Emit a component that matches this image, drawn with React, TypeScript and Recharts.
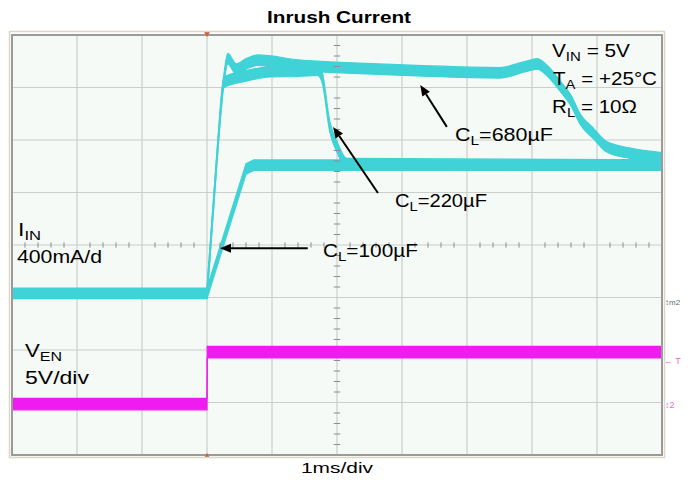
import React from 'react';
import { ComposedChart, Area, XAxis, YAxis, CartesianGrid, ReferenceLine, ReferenceArea, ReferenceDot } from 'recharts';

const W = 693;
const H = 480;
const CYAN = '#3fd2d6';
const MAGENTA = '#ee1cee';
const FONT = '"Liberation Sans", Arial, sans-serif';

// screen divisions: 10 across (1ms/div), 8 down
const xDivs = [0, 1, 2, 3, 4, 5, 6, 7, 8, 9, 10];
const yDivs = [0, 1, 2, 3, 4, 5, 6, 7, 8];

// I_IN traces, in divisions (400mA/div)
const t100 = [0, 3.0, 3.6, 3.72, 10];
const i100 = [3.08, 3.08, 5.45, 5.52, 5.52];

const t220 = [3.0, 3.15, 3.26, 3.6, 3.97, 4.4, 4.7, 4.77, 4.89, 5.0, 5.15, 10];
const i220 = [3.08, 5.62, 7.1, 7.22, 7.3, 7.31, 7.33, 7.2, 6.25, 5.87, 5.55, 5.52];

const t680 = [3.0, 3.15, 3.26, 3.32, 3.45, 3.6, 3.78, 4.45, 5.05, 6.23, 7.5, 7.9, 8.08, 8.25, 8.45, 8.6, 8.75, 8.94, 9.15, 9.5, 10];
const i680 = [3.08, 5.62, 7.15, 7.55, 7.35, 7.45, 7.52, 7.42, 7.38, 7.32, 7.28, 7.4, 7.45, 7.3, 7.0, 6.75, 6.38, 6.13, 5.87, 5.75, 5.66];

// V_EN trace (5V/div)
const tEn = [0, 3.0, 3.004, 10];
const vEn = [0.97, 0.97, 1.96, 1.96];

// trace noise half-widths, in divisions
const IIN_HALF = 0.1;
const VEN_HALF = 0.11;

const band = (ts: number[], vs: number[], h: number) =>
  ts.map((t, i) => ({ t, band: [vs[i] - h, vs[i] + h] }));

const minorX: number[] = [];
for (let i = 1; i < 50; i++) if (i % 5 !== 0) minorX.push(i / 5);
const minorY: number[] = [];
for (let i = 1; i < 40; i++) if (i % 5 !== 0) minorY.push(i / 5);

// callout arrows, tail -> head, in divisions
const arrows = [
  { from: { x: 6.69, y: 6.25 }, to: { x: 6.28, y: 7.05 } },
  { from: { x: 5.63, y: 4.99 }, to: { x: 4.94, y: 6.25 } },
  { from: { x: 4.55, y: 3.94 }, to: { x: 3.2, y: 3.94 } },
];

const Arrow = (p: any) => {
  const { x1, y1, x2, y2 } = p;
  const a = Math.atan2(y2 - y1, x2 - x1);
  const L = 11;
  const w = 4.5;
  const bx = x2 - L * Math.cos(a);
  const by = y2 - L * Math.sin(a);
  const pts = [
    [x2, y2],
    [bx + w * Math.sin(a), by - w * Math.cos(a)],
    [bx - w * Math.sin(a), by + w * Math.cos(a)],
  ].map((q) => q.join(',')).join(' ');
  return (
    <g>
      <line x1={x1} y1={y1} x2={bx} y2={by} stroke="#000" strokeWidth={2} />
      <polygon points={pts} fill="#000" />
    </g>
  );
};

const TrigMark = (up: boolean) => (p: any) => {
  const { cx, cy } = p;
  const d = up ? -1 : 1;
  return <polygon points={`${cx - 3},${cy - 3 * d} ${cx + 3},${cy - 3 * d} ${cx},${cy + 2 * d}`} fill="#d0603a" />;
};

const Lbl = ({ x, y, len, main, sub, rest, size = 19, bold = false, anchor = 'start' }: any) => (
  <text
    x={x}
    y={y}
    fontSize={size}
    fontFamily={FONT}
    fontWeight={bold ? 'bold' : 'normal'}
    textLength={len}
    lengthAdjust="spacingAndGlyphs"
    textAnchor={anchor}
    fill="#000"
  >
    {main}
    {sub && (
      <tspan fontSize={size * 0.72} dy={4}>
        {sub}
      </tspan>
    )}
    {rest && <tspan dy={sub ? -4 : 0}>{rest}</tspan>}
  </text>
);

export default function App() {
  return (
    <div style={{ position: 'absolute', left: 0, top: 0, width: W, height: H, background: '#fff' }}>
      <ComposedChart width={W} height={H} margin={{ top: 35, right: 31, bottom: 25, left: 12 }}>
        <XAxis type="number" dataKey="t" domain={[0, 10]} ticks={xDivs} hide allowDataOverflow />
        <YAxis type="number" domain={[0, 8]} ticks={yDivs} hide allowDataOverflow />
        <CartesianGrid stroke="#cbcecb" strokeWidth={1.2} fill="#f5faf6" />
        {minorX.map((x) => (
          <ReferenceLine key={'mx' + x} segment={[{ x, y: 3.95 }, { x, y: 4.05 }]} stroke="#8c8c8c" />
        ))}
        {minorY.map((y) => (
          <ReferenceLine key={'my' + y} segment={[{ x: 4.95, y }, { x: 5.05, y }]} stroke="#8c8c8c" />
        ))}
        <Area data={band(tEn, vEn, VEN_HALF)} dataKey="band" type="linear" fill={MAGENTA} fillOpacity={1} stroke={MAGENTA} strokeWidth={1.2} isAnimationActive={false} />
        <Area data={band(t100, i100, IIN_HALF)} dataKey="band" type="linear" fill={CYAN} fillOpacity={1} stroke={CYAN} strokeWidth={1.2} isAnimationActive={false} />
        <Area data={band(t220, i220, IIN_HALF)} dataKey="band" type="monotone" fill={CYAN} fillOpacity={1} stroke={CYAN} strokeWidth={1.2} isAnimationActive={false} />
        <Area data={band(t680, i680, IIN_HALF)} dataKey="band" type="monotone" fill={CYAN} fillOpacity={1} stroke={CYAN} strokeWidth={1.2} isAnimationActive={false} />
        <ReferenceArea x1={0} x2={10} y1={0} y2={8} fill="none" stroke="#9a9a9a" strokeWidth={2} />
        <ReferenceDot x={3} y={8} r={3} shape={TrigMark(false)} />
        <ReferenceDot x={3} y={0} r={3} shape={TrigMark(true)} />
        {arrows.map((a, i) => (
          <ReferenceLine key={'ar' + i} segment={[a.from, a.to]} shape={Arrow} />
        ))}
      </ComposedChart>
      <svg width={W} height={H} style={{ position: 'absolute', left: 0, top: 0, pointerEvents: 'none' }}>
        <rect x={9.5} y={31.5} width={655} height={426} fill="none" stroke="#dcd6c8" strokeWidth={1.5} />
        <Lbl x={339} y={23} len={144} size={16} bold anchor="middle" main="Inrush Current" />
        <Lbl x={552} y={57} len={78} main="V" sub="IN" rest=" = 5V" />
        <Lbl x={553} y={85} len={104} main="T" sub="A" rest=" = +25°C" />
        <Lbl x={552} y={113} len={85} main="R" sub="L" rest=" = 10Ω" />
        <Lbl x={455} y={141} len={98} main="C" sub="L" rest="=680µF" />
        <Lbl x={395} y={207} len={92} main="C" sub="L" rest="=220µF" />
        <Lbl x={323} y={257} len={95} main="C" sub="L" rest="=100µF" />
        <Lbl x={18} y={236} len={23} main="I" sub="IN" />
        <Lbl x={17} y={263} len={85} main="400mA/d" />
        <Lbl x={25} y={357} len={37} main="V" sub="EN" />
        <Lbl x={25} y={384} len={64} main="5V/div" />
        <Lbl x={337} y={473} len={72} size={15} anchor="middle" main="1ms/div" />
        <text x={665} y={305} fontSize={8} fontFamily={FONT} fill="#606a70">↕m2</text>
        <text x={664} y={364} fontSize={9} fontFamily={FONT} fill="#e070d0">← T</text>
        <text x={665} y={408} fontSize={9} fontFamily={FONT} fill="#e070d0">↕2</text>
      </svg>
    </div>
  );
}
